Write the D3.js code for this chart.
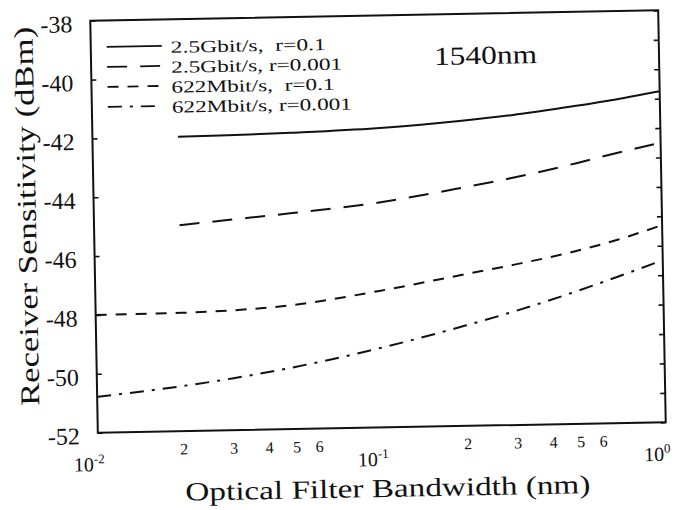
<!DOCTYPE html>
<html>
<head>
<meta charset="utf-8">
<script src="https://cdn.jsdelivr.net/npm/d3@7/dist/d3.min.js"></script>
<style>
  html, body { margin: 0; padding: 0; background: #fff; }
  svg { display: block; }
  text { font-family: "Liberation Serif", "Times New Roman", serif; fill: #111; }
</style>
</head>
<body>
<div id="chart"></div>
<script>
// Optical filter bandwidth (nm) sample points
const bandwidth = [0.01, 0.02, 0.03, 0.05, 0.1, 0.2, 0.3, 0.5, 0.7, 1.0];

// Receiver sensitivity (dBm); null where a curve is not computed
const sens25G_r01    = [null, -42.00, -41.98, -41.93, -41.83, -41.63, -41.47, -41.20, -41.00, -40.75];
const sens25G_r0001  = [null, -45.00, -44.85, -44.66, -44.36, -43.90, -43.60, -43.15, -42.82, -42.50];
const sens622M_r01   = [-48.00, -47.98, -47.93, -47.78, -47.36, -46.85, -46.55, -46.12, -45.76, -45.30];
const sens622M_r0001 = [-50.78, -50.47, -50.24, -49.89, -49.30, -48.59, -48.13, -47.48, -47.01, -46.49];

const seriesNames = ["2.5Gbit/s,\u00A0 r=0.1", "2.5Gbit/s, r=0.001", "622Mbit/s,\u00A0 r=0.1", "622Mbit/s, r=0.001"];
const seriesValues = [sens25G_r01, sens25G_r0001, sens622M_r01, sens622M_r0001];
const seriesDash = [null, "20,13", "11,9", "14,8,3,8"];
const legendTextLen = [155, 171, 163, 180];

const yTicks = [-38, -40, -42, -44, -46, -48, -50, -52];
const yMinorTicks = [-38, -39, -40, -41, -42, -43, -44, -45, -46, -47, -48, -49, -50, -51, -52];
const xMinorTicks = [0.02, 0.03, 0.04, 0.05, 0.06, 0.2, 0.3, 0.4, 0.5, 0.6];
const xDecades = [{v: 0.01, e: "-2"}, {v: 0.1, e: "-1"}, {v: 1, e: "0"}];

const W = 683, H = 510;
const plotL = 94, plotR = 662, plotT = 15.5, plotB = 427.5;

const svg = d3.select("#chart").append("svg")
  .attr("width", W).attr("height", H);
svg.append("rect").attr("width", W).attr("height", H).attr("fill", "#fff");

// whole figure sits slightly tilted
const g = svg.append("g").attr("transform", "rotate(-1.05, 378, 221.5)");

const x = d3.scaleLog().domain([0.01, 1]).range([plotL, plotR]);
const y = d3.scaleLinear().domain([-52, -38]).range([plotB, plotT]);

// left axis: labels and inward ticks
const yAxisL = d3.axisLeft(y).tickValues(yTicks).tickSizeInner(-5).tickSizeOuter(0)
  .tickPadding(18).tickFormat(d => String(d));
const gl = g.append("g").attr("transform", `translate(${plotL},0)`).call(yAxisL);
gl.select(".domain").remove();
gl.selectAll(".tick line").attr("stroke", "#111").attr("stroke-width", 1.6);
gl.selectAll(".tick text").attr("font-size", 24).attr("dy", "0.45em")
  .style("font-family", '"Liberation Serif", serif').attr("fill", "#111");

// right axis: inward ticks only
const yAxisR = d3.axisLeft(y).tickValues(yMinorTicks).tickSizeInner(5).tickSizeOuter(0)
  .tickFormat("");
const gr = g.append("g").attr("transform", `translate(${plotR},0)`).call(yAxisR);
gr.select(".domain").remove();
gr.selectAll(".tick line").attr("stroke", "#111").attr("stroke-width", 1.6);

// bottom axis: minor digit labels, no tick marks
const xAxis = d3.axisBottom(x).tickValues(xMinorTicks).tickSize(0).tickPadding(9)
  .tickFormat(d => String(Math.round(d / Math.pow(10, Math.floor(Math.log10(d) + 1e-9)))));
const gb = g.append("g").attr("transform", `translate(0,${plotB})`).call(xAxis);
gb.select(".domain").remove();
gb.selectAll(".tick text").attr("font-size", 16).attr("dy", "0.9em")
  .style("font-family", '"Liberation Serif", serif').attr("fill", "#111");

// decade labels 10^n
const dec = g.append("g").selectAll("text").data(xDecades).join("text")
  .attr("x", d => x(d.v) - 9).attr("y", 466)
  .attr("text-anchor", "middle").attr("font-size", 20);
dec.append("tspan").text("10");
dec.append("tspan").attr("font-size", 13).attr("dy", -8).text(d => d.e);

// frame
g.append("rect").attr("x", plotL).attr("y", plotT)
  .attr("width", plotR - plotL).attr("height", plotB - plotT)
  .attr("fill", "none").attr("stroke", "#111").attr("stroke-width", 2);

// curves
const line = d3.line()
  .defined(d => d[1] != null)
  .x(d => x(d[0])).y(d => y(d[1]))
  .curve(d3.curveMonotoneX);

seriesValues.forEach((vals, i) => {
  const pts = bandwidth.map((b, j) => [b, vals[j]]);
  g.append("path").datum(pts)
    .attr("d", line)
    .attr("fill", "none").attr("stroke", "#111").attr("stroke-width", 2)
    .attr("stroke-dasharray", seriesDash[i]);
});

// legend
const leg = g.append("g");
seriesNames.forEach((name, i) => {
  const base = 49 + i * 20;
  leg.append("line").attr("x1", 110).attr("x2", 165)
    .attr("y1", base - 7).attr("y2", base - 7)
    .attr("stroke", "#111").attr("stroke-width", 1.8)
    .attr("stroke-dasharray", seriesDash[i]);
  leg.append("text").attr("x", 174).attr("y", base)
    .attr("font-size", 17)
    .attr("textLength", legendTextLen[i]).attr("lengthAdjust", "spacingAndGlyphs")
    .text(name);
});

// wavelength note
g.append("text").attr("x", 437).attr("y", 66).attr("font-size", 26)
  .attr("textLength", 103).attr("lengthAdjust", "spacingAndGlyphs")
  .text("1540nm");

// axis titles
g.append("text").attr("x", 383).attr("y", 497)
  .attr("text-anchor", "middle").attr("font-size", 26)
  .attr("textLength", 405).attr("lengthAdjust", "spacingAndGlyphs")
  .text("Optical Filter Bandwidth (nm)");

g.append("text").attr("transform", "translate(36,210) rotate(-90)")
  .attr("text-anchor", "middle").attr("font-size", 27)
  .attr("textLength", 379).attr("lengthAdjust", "spacingAndGlyphs")
  .text("Receiver Sensitivity (dBm)");
</script>
</body>
</html>
